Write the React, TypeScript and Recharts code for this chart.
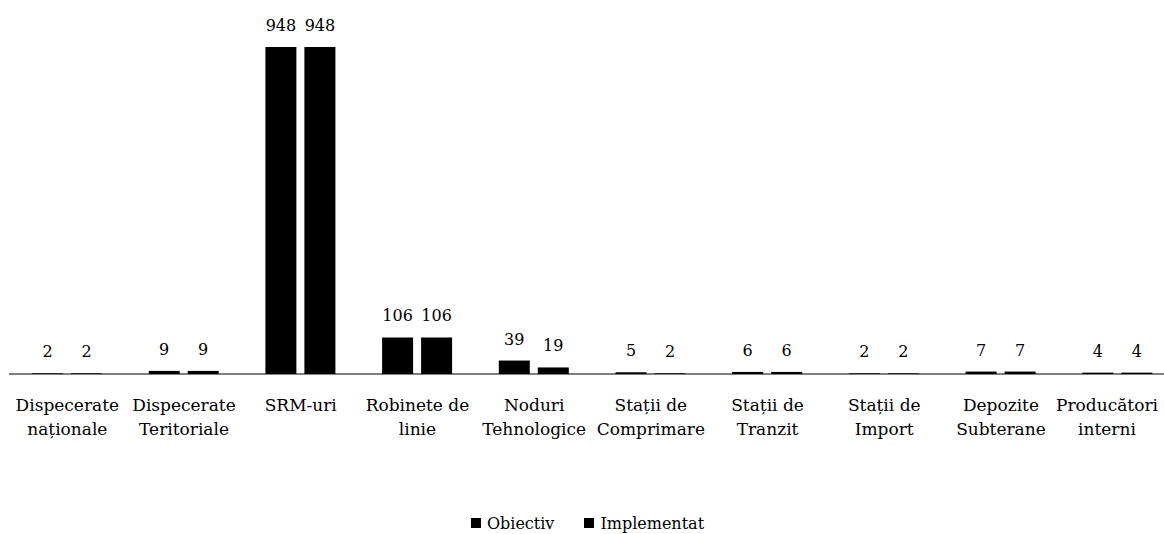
import React from 'react';
import { BarChart, Bar, XAxis, YAxis, Legend, LabelList } from 'recharts';

const categories = [
  'Dispecerate\nnaționale',
  'Dispecerate\nTeritoriale',
  'SRM-uri',
  'Robinete de\nlinie',
  'Noduri\nTehnologice',
  'Stații de\nComprimare',
  'Stații de\nTranzit',
  'Stații de\nImport',
  'Depozite\nSubterane',
  'Producători\ninterni',
];
const obiectiv = [2, 9, 948, 106, 39, 5, 6, 2, 7, 4];
const implementat = [2, 9, 948, 106, 19, 2, 6, 2, 7, 4];
const seriesNames = ['Obiectiv', 'Implementat'];

const data = categories.map((c, i) => ({ name: c, obiectiv: obiectiv[i], implementat: implementat[i] }));

const FONT = '"DejaVu Serif", serif';

const Tick = (props: any) => {
  const { x, y, payload } = props;
  const lines = String(payload.value).split('\n');
  const cx = Math.min(x, 1107);
  return (
    <text x={cx} y={y} textAnchor="middle" fontFamily={FONT} fontSize={17} fill="#000">
      {lines.map((l, i) => (
        <tspan key={i} x={cx} dy={i === 0 ? 29 : 24}>{l}</tspan>
      ))}
    </text>
  );
};

const LegendContent = (props: any) => {
  const payload = [...(props.payload || [])].sort(
    (a: any, b: any) => seriesNames.indexOf(a.value) - seriesNames.indexOf(b.value)
  );
  return (
    <div style={{ display: 'flex', justifyContent: 'center', fontFamily: FONT, fontSize: 16, color: '#000', height: 22, alignItems: 'center', paddingRight: 10 }}>
      {payload.map((p: any, i: number) => (
        <div key={i} style={{ display: 'flex', alignItems: 'center', marginRight: i === 0 ? 30 : 0 }}>
          <div style={{ width: 10, height: 10, background: '#000', marginRight: 6 }} />
          <span>{p.value}</span>
        </div>
      ))}
    </div>
  );
};

export default function App() {
  return (
    <div style={{ position: 'absolute', left: 0, top: 0, width: 1164, height: 534, overflow: 'hidden', background: '#fff' }}>
      <BarChart
        width={1180}
        height={534}
        data={data}
        margin={{ top: 47, right: 4, left: 9, bottom: 0 }}
        barSize={31}
        barGap={8}
      >
        <XAxis
          dataKey="name"
          tick={<Tick />}
          tickLine={false}
          axisLine={{ stroke: '#000', strokeWidth: 1 }}
          height={138}
          interval={0}
        />
        <YAxis hide domain={[0, 948]} />
        <Legend verticalAlign="bottom" content={<LegendContent />} />
        <Bar dataKey="obiectiv" name={seriesNames[0]} fill="#000" isAnimationActive={false}>
          <LabelList dataKey="obiectiv" position="top" offset={16} fontFamily={FONT} fontSize={16} fill="#000" />
        </Bar>
        <Bar dataKey="implementat" name={seriesNames[1]} fill="#000" isAnimationActive={false}>
          <LabelList dataKey="implementat" position="top" offset={16} fontFamily={FONT} fontSize={16} fill="#000" />
        </Bar>
      </BarChart>
    </div>
  );
}
